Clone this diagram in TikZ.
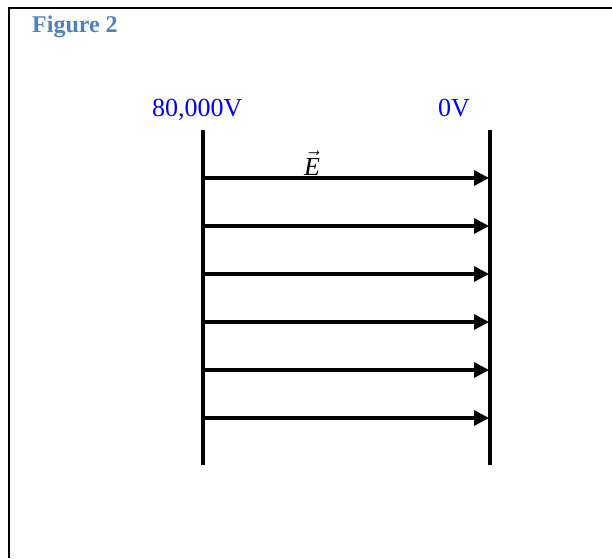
\documentclass[tikz,border=0pt]{standalone}
\usepackage{fontspec}
\setmainfont{Liberation Serif}
\usetikzlibrary{arrows.meta}
\definecolor{figblue}{RGB}{79,129,189}
\tikzset{
  plate/.style={line width=3.2pt},
  field/.style={line width=3.2pt,-{Triangle[length=15pt,width=15pt]}},
  volt/.style={anchor=base west,text=blue,font=\fontsize{26}{28}\selectfont,inner sep=0pt}
}
\begin{document}
\begin{tikzpicture}[x=1pt,y=-1pt]
\useasboundingbox (0,0) rectangle (612,558);
\draw[line width=2pt] (9,558) -- (9,8) -- (612,8);
\node[anchor=base west,inner sep=0pt,text=figblue,font=\fontsize{24}{26}\selectfont\bfseries] (fig) at (32,32) {Figure 2};

\node[volt] (vhigh) at (152,116) {80,000V};
\node[volt] (vlow) at (438,116) {0V};

% plates
\coordinate (ltop) at (203,130);
\coordinate (lbot) at (203,465);
\coordinate (rtop) at (490,130);
\coordinate (rbot) at (490,465);
\draw[plate] (ltop) -- (lbot);
\draw[plate] (rtop) -- (rbot);

% field lines
\foreach \i/\y in {1/178,2/226,3/274,4/322,5/370,6/418}
{
  \coordinate (l\i) at (203,\y);
  \coordinate (r\i) at (489,\y);
  \draw[field] (l\i) -- (r\i);
}
\node[anchor=base,inner sep=0pt,font=\fontsize{26}{28}\selectfont] (efield) at (312,175) {$\vec{\textit{E}}$};
\end{tikzpicture}
\end{document}
